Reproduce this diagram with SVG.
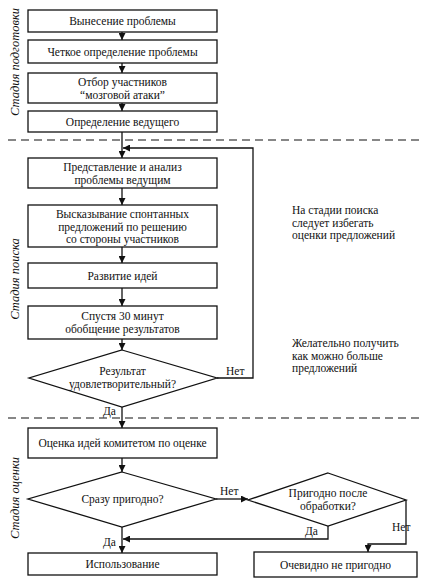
<svg xmlns="http://www.w3.org/2000/svg" width="423" height="583" viewBox="0 0 423 583">
<defs>
<marker id="ah" viewBox="0 0 10 10" refX="10" refY="5" markerWidth="7" markerHeight="7" markerUnits="userSpaceOnUse" orient="auto">
<path d="M0,0 L10,5 L0,10 z" fill="#111"/>
</marker>
<style>
.b{fill:#fff;stroke:#111;stroke-width:1.3}
.t{font-family:"Liberation Serif","DejaVu Serif","Times New Roman",serif;font-size:11.5px;fill:#111;text-anchor:middle}
.n{font-family:"Liberation Serif","DejaVu Serif","Times New Roman",serif;font-size:11.5px;fill:#111}
.s{font-family:"Liberation Serif","DejaVu Serif","Times New Roman",serif;font-size:12.5px;font-style:italic;fill:#111;text-anchor:middle}
.c{fill:none;stroke:#111;stroke-width:1.3}
.d{fill:none;stroke:#111;stroke-width:1.2;stroke-dasharray:8 5}
</style>
</defs>
<rect width="423" height="583" fill="#fff"/>

<g id="dividers">
<line class="d" x1="8" y1="140" x2="423" y2="140"/>
<line class="d" x1="8" y1="418" x2="423" y2="418"/>
</g>

<g id="stage-labels">
<text class="s" transform="translate(19,62) rotate(-90)">Стадия подготовки</text>
<text class="s" transform="translate(19,279) rotate(-90)">Стадия поиска</text>
<text class="s" transform="translate(19,498) rotate(-90)">Стадия оценки</text>
</g>

<g id="connectors">
<line class="c" x1="122" y1="32" x2="122" y2="40" marker-end="url(#ah)"/>
<line class="c" x1="122" y1="63" x2="122" y2="73" marker-end="url(#ah)"/>
<line class="c" x1="122" y1="103" x2="122" y2="111" marker-end="url(#ah)"/>
<line class="c" x1="122" y1="132" x2="122" y2="158" marker-end="url(#ah)"/>
<line class="c" x1="122" y1="188" x2="122" y2="205" marker-end="url(#ah)"/>
<line class="c" x1="122" y1="247" x2="122" y2="263" marker-end="url(#ah)"/>
<line class="c" x1="122" y1="288" x2="122" y2="306" marker-end="url(#ah)"/>
<line class="c" x1="122" y1="339" x2="122" y2="350" marker-end="url(#ah)"/>
<polyline class="c" points="217,378 253,378 253,148 123,148" marker-end="url(#ah)"/>
<line class="c" x1="122" y1="407" x2="122" y2="428" marker-end="url(#ah)"/>
<line class="c" x1="122" y1="458" x2="122" y2="472" marker-end="url(#ah)"/>
<line class="c" x1="216" y1="499" x2="248" y2="499" marker-end="url(#ah)"/>
<line class="c" x1="122" y1="527" x2="122" y2="553" marker-end="url(#ah)"/>
<polyline class="c" points="328,526 328,539 123,539" marker-end="url(#ah)"/>
<polyline class="c" points="406,500 406,544 368,544 368,552" marker-end="url(#ah)"/>
<text class="n" x="226" y="375">Нет</text>
<text class="n" x="103" y="415">Да</text>
<text class="n" x="220" y="495">Нет</text>
<text class="n" x="305" y="535">Да</text>
<text class="n" x="392" y="531">Нет</text>
<text class="n" x="103" y="546">Да</text>
</g>

<g id="n1"><rect class="b" x="28" y="10" width="189" height="22"/><text class="t" x="122.5" y="25">Вынесение проблемы</text></g>
<g id="n2"><rect class="b" x="28" y="40" width="189" height="23"/><text class="t" x="122.5" y="56">Четкое определение проблемы</text></g>
<g id="n3"><rect class="b" x="28" y="73" width="189" height="30"/><text class="t" x="122.5" y="85.5">Отбор участников</text><text class="t" x="122.5" y="98.5">“мозговой атаки”</text></g>
<g id="n4"><rect class="b" x="28" y="111" width="189" height="21"/><text class="t" x="122.5" y="126">Определение ведущего</text></g>
<g id="n5"><rect class="b" x="28" y="158" width="189" height="30"/><text class="t" x="122.5" y="170.5">Представление и анализ</text><text class="t" x="122.5" y="183.5">проблемы ведущим</text></g>
<g id="n6"><rect class="b" x="28" y="205" width="189" height="42"/><text class="t" x="122.5" y="218">Высказывание спонтанных</text><text class="t" x="122.5" y="230.5">предложений по решению</text><text class="t" x="122.5" y="243">со стороны участников</text></g>
<g id="n7"><rect class="b" x="28" y="263" width="189" height="25"/><text class="t" x="122.5" y="280">Развитие идей</text></g>
<g id="n8"><rect class="b" x="28" y="306" width="189" height="33"/><text class="t" x="122.5" y="320">Спустя 30 минут</text><text class="t" x="122.5" y="333">обобщение результатов</text></g>
<g id="n9"><polygon class="b" points="122,350 217,378 122,407 29,378"/><text class="t" x="122.5" y="375">Результат</text><text class="t" x="122.5" y="388">удовлетворительный?</text></g>
<g id="n10"><rect class="b" x="28" y="428" width="189" height="30"/><text class="t" x="122.5" y="447">Оценка идей комитетом по оценке</text></g>
<g id="n11"><polygon class="b" points="122,472 216,499 122,527 28,499"/><text class="t" x="122.5" y="503">Сразу пригодно?</text></g>
<g id="n12"><polygon class="b" points="328,473 406,500 328,526 248,500"/><text class="t" x="328" y="497">Пригодно после</text><text class="t" x="328" y="510">обработки?</text></g>
<g id="n13"><rect class="b" x="28" y="553" width="189" height="22"/><text class="t" x="122.5" y="568">Использование</text></g>
<g id="n14"><rect class="b" x="254" y="552" width="163" height="25"/><text class="t" x="335.5" y="569">Очевидно не пригодно</text></g>

<g id="notes">
<text class="n" x="292" y="214">На стадии поиска</text>
<text class="n" x="292" y="226.5">следует избегать</text>
<text class="n" x="292" y="239">оценки предложений</text>
<text class="n" x="292" y="347">Желательно получить</text>
<text class="n" x="292" y="359.5">как можно больше</text>
<text class="n" x="292" y="372">предложений</text>
</g>
</svg>
